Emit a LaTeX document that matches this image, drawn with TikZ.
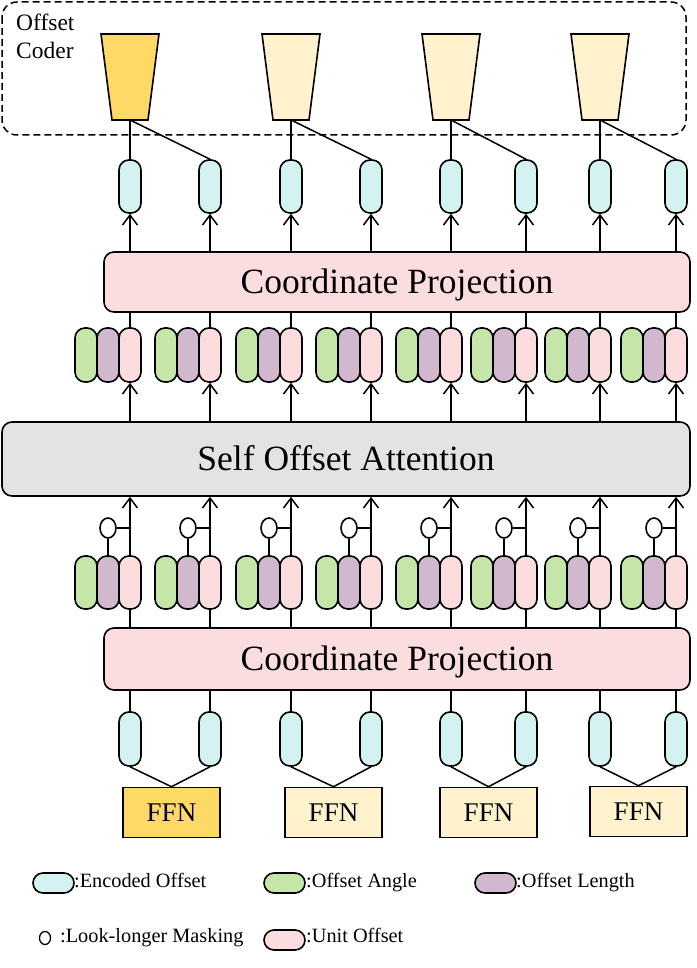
\documentclass[tikz,border=0pt]{standalone}
\usepackage{fontspec}
\setmainfont{Liberation Serif}
\usetikzlibrary{arrows.meta,shapes.geometric}
\definecolor{cyanf}{HTML}{D4F2EF}
\definecolor{greenf}{HTML}{C5E5A9}
\definecolor{purpf}{HTML}{D1B8CF}
\definecolor{pinkf}{HTML}{FBDDDF}
\definecolor{grayf}{HTML}{E3E3E3}
\definecolor{goldf}{HTML}{FFD966}
\definecolor{creamf}{HTML}{FFF2CC}
\begin{document}
\begin{tikzpicture}[x=1pt,y=-1pt,
  pill/.style={draw, line width=1.6pt, rounded corners=10pt, minimum width=22pt, minimum height=54pt, inner sep=0pt},
  lpill/.style={draw, line width=1.6pt, rounded corners=10pt, minimum width=41pt, minimum height=20pt, inner sep=0pt},
  bigbox/.style={draw, line width=1.6pt, rounded corners=10pt, inner sep=0pt, font=\fontsize{35.5}{40}\selectfont, text height=23pt, text depth=0pt},
  ffnbox/.style={draw, line width=1.6pt, inner sep=0pt, minimum width=97pt, minimum height=50pt, font=\fontsize{27}{30}\selectfont, text height=18pt, text depth=0pt},
  trap/.style={draw, line width=1.6pt, line join=miter},
  conn/.style={draw, line width=1.5pt},
  arr/.style={draw, line width=1.5pt, -{Straight Barb[length=10pt,width=15pt]}},
  mask/.style={draw, ellipse, line width=1.6pt, minimum width=16pt, minimum height=20pt, inner sep=0pt, fill=white},
  legtext/.style={anchor=base west, inner sep=0pt, font=\fontsize{20.3}{24}\selectfont},
]
\useasboundingbox (0,0) rectangle (696,968);

% Offset coder group
\draw[line width=1.5pt, dash pattern=on 7pt off 4pt, rounded corners=15pt] (2,2) rectangle (686,135);
\node[anchor=base west, inner sep=0pt, font=\fontsize{23.5}{28}\selectfont] (oc1) at (16,31) {Offset};
\node[anchor=base west, inner sep=0pt, font=\fontsize{23.5}{28}\selectfont] (oc2) at (16,59) {Coder};

% trapezoids
\foreach \c/\f [count=\k] in {130/goldf,291/creamf,451/creamf,600/creamf}{
  \draw[trap, fill=\f] (\c-29,34) -- (\c+29,34) -- (\c+18,120) -- (\c-18,120) -- cycle;
  \coordinate (t\k) at (\c,120);
}

% big boxes
\node[bigbox, fill=pinkf, minimum width=586pt, minimum height=60pt] (cp1) at (397,282) {Coordinate Projection};
\node[bigbox, fill=grayf, minimum width=688pt, minimum height=74pt] (soa) at (346,459) {Self Offset Attention};
\node[bigbox, fill=pinkf, minimum width=586pt, minimum height=62pt] (cp2) at (397,659) {Coordinate Projection};

% FFN boxes
\node[ffnbox, fill=goldf] (f1) at (171.5,812.5) {FFN};
\node[ffnbox, fill=creamf] (f2) at (333.5,812.5) {FFN};
\node[ffnbox, fill=creamf] (f3) at (488.5,812.5) {FFN};
\node[ffnbox, fill=creamf] (f4) at (638.5,811.5) {FFN};

% columns
\foreach \x [count=\i] in {130,210,291,371,451,526,600,676}{
  % top encoded pills
  \node[pill, fill=cyanf, minimum height=53pt] (pa\i) at (\x,186.5) {};
  \draw[arr] (pa\i.south |- cp1.north) -- (pa\i.south);
  % middle triplets
  \node[pill, fill=greenf] (mg\i) at (\x-44,355) {};
  \node[pill, fill=purpf] (mu\i) at (\x-22,355) {};
  \node[pill, fill=pinkf] (mk\i) at (\x,355) {};
  \draw[conn] (mk\i.north) -- (mk\i.north |- cp1.south);
  \draw[arr] (mk\i.south |- soa.north) -- (mk\i.south);
  % lower triplets
  \node[pill, fill=greenf, minimum height=53pt] (lg\i) at (\x-44,582.5) {};
  \node[pill, fill=purpf, minimum height=53pt] (lu\i) at (\x-22,582.5) {};
  \node[pill, fill=pinkf, minimum height=53pt] (lk\i) at (\x,582.5) {};
  \node[mask] (m\i) at (\x-22,528) {};
  \draw[conn] (lu\i.north) -- (m\i.south);
  \draw[conn] (m\i.east) -- (m\i.east -| lk\i.north);
  \draw[arr] (lk\i.north) -- (lk\i.north |- soa.south);
  \draw[conn] (lk\i.south) -- (lk\i.south |- cp2.north);
  % bottom encoded pills
  \node[pill, fill=cyanf] (pb\i) at (\x,739) {};
  \draw[conn] (pb\i.north |- cp2.south) -- (pb\i.north);
}

% trapezoid to pills
\foreach \k [evaluate=\k as \a using int(2*\k-1), evaluate=\k as \b using int(2*\k)] in {1,2,3,4}{
  \draw[conn] (t\k) -- (pa\a.north);
  \draw[conn] (t\k) -- (pa\b.north);
}
% pills to FFN
\foreach \k [evaluate=\k as \a using int(2*\k-1), evaluate=\k as \b using int(2*\k)] in {1,2,3,4}{
  \draw[conn] (pb\a.south) -- (f\k.north);
  \draw[conn] (pb\b.south) -- (f\k.north);
}

% legend
\node[lpill, fill=cyanf] (le1) at (53.5,883) {};
\node[legtext] (lt1) at (74,887) {:Encoded Offset};
\node[lpill, fill=greenf] (le2) at (284.5,883) {};
\node[legtext] (lt2) at (306,887) {:Offset Angle};
\node[lpill, fill=purpf] (le3) at (495.5,883) {};
\node[legtext] (lt3) at (516,887) {:Offset Length};
\node[draw, ellipse, line width=1.3pt, minimum width=11pt, minimum height=13pt, inner sep=0pt] (le4) at (45,938) {};
\node[legtext] (lt4) at (60,942) {:Look-longer Masking};
\node[lpill, fill=pinkf] (le5) at (284.5,940) {};
\node[legtext] (lt5) at (306,942) {:Unit Offset};
\end{tikzpicture}
\end{document}
